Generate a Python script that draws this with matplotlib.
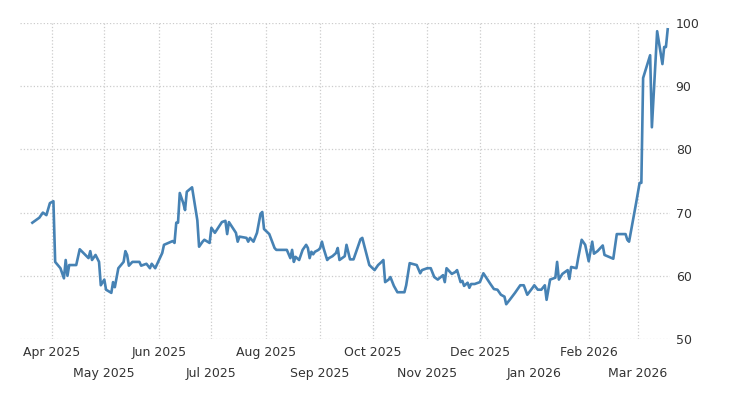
import matplotlib
matplotlib.use("Agg")
import matplotlib.pyplot as plt
import matplotlib.dates as mdates
import numpy as np
import datetime as dt

start = dt.date(2025, 4, 1)
day_offsets = [-11,-7,-5,-3,-1,1,2,5,7,8,9,10,14,16,21,22,23,25,27,28,30,31,34,35,36,38,41,42,43,44,46,50,51,54,56,57,59,62,63,64,69,70,71,72,73,75,76,77,80,83,84,86,87,90,91,93,97,99,100,101,105,106,107,111,112,113,115,117,119,120,121,124,127,128,134,136,137,138,139,141,143,145,146,147,148,149,150,152,153,154,155,157,158,160,162,163,164,167,168,170,172,176,177,178,181,184,186,188,189,190,192,193,195,197,201,202,204,208,210,211,214,216,218,220,223,224,225,227,228,230,231,233,234,235,237,238,239,241,244,246,250,252,254,256,258,259,261,264,267,269,271,274,275,277,279,281,282,284,287,288,289,291,294,295,296,299,300,302,304,306,308,309,311,314,315,320,322,327,328,329,333,335,336,337,341,342,345,348,349,350,351]
values = [68.4,69.2,70.0,69.6,71.5,71.8,62.2,61.2,59.6,62.5,60.0,61.7,61.7,64.2,62.8,63.9,62.5,63.3,62.2,58.5,59.4,57.8,57.3,59.0,58.2,61.2,62.2,63.9,63.3,61.6,62.2,62.2,61.6,61.9,61.2,61.9,61.2,63.0,63.6,64.9,65.5,65.2,68.4,68.4,73.1,71.5,70.4,73.3,74.0,68.8,64.6,65.4,65.7,65.2,67.6,66.8,68.5,68.7,66.6,68.5,66.8,65.4,66.2,66.0,65.4,66.0,65.4,66.8,69.8,70.1,67.4,66.6,64.4,64.1,64.1,62.8,64.1,62.2,63.0,62.5,64.1,64.9,64.4,62.8,63.8,63.4,63.8,64.1,64.4,65.4,64.3,62.5,62.8,63.1,63.6,64.4,62.5,63.1,64.9,62.6,62.6,65.8,66.0,64.9,61.7,60.9,61.7,62.2,62.5,59.0,59.4,59.8,58.4,57.4,57.4,58.5,62.0,61.7,60.4,60.9,61.2,61.2,59.8,59.4,60.1,59.0,61.2,60.6,60.3,60.6,60.9,59.0,59.2,58.4,58.9,58.1,58.7,58.7,59.0,60.4,58.7,57.9,57.8,57.0,56.7,55.5,56.2,57.3,58.5,58.5,57.0,58.1,58.5,57.8,57.8,58.5,56.2,59.4,59.7,62.2,59.4,60.3,60.9,59.5,61.4,61.2,62.8,65.7,64.9,62.3,65.4,63.5,63.9,64.8,63.3,62.7,66.6,66.6,65.7,65.4,71.5,74.7,74.7,91.3,94.9,83.5,98.7,93.5,96.2,96.2,99.0]
yticks = [50, 60, 70, 80, 90, 100]

dates = [start + dt.timedelta(days=d) for d in day_offsets]

fig = plt.figure(figsize=(7.3, 4.0), dpi=100)
ax = fig.add_axes([0.027, 0.1525, 0.891, 0.79])
ax.plot(dates, values, color="#4682b4", lw=1.9)
ax.set_ylim(50, 100)
x0 = mdates.date2num(dt.date(2025, 4, 1))
ax.set_xlim(x0 - 18.2, x0 - 18.2 + 370.6)
ax.set_yticks(yticks)
ax.yaxis.tick_right()
for s in ax.spines.values():
    s.set_visible(False)
ax.tick_params(axis="y", length=0, pad=4, labelsize=9, labelcolor="#333333")
months = [dt.date(2025, m, 1) for m in range(4, 13)] + [dt.date(2026, m, 1) for m in range(1, 4)]
ax.set_xticks(months)
ax.set_xticklabels([])
ax.tick_params(axis="x", length=0)
ax.grid(True, color="#cccccc", ls=":", lw=0.9)
for i, m in enumerate(months):
    yoff = -0.022 if i % 2 == 0 else -0.09
    ax.text(mdates.date2num(m), yoff, m.strftime("%b %Y"), transform=ax.get_xaxis_transform(),
            ha="center", va="top", fontsize=9, color="#333333")
fig.savefig("out.png")
